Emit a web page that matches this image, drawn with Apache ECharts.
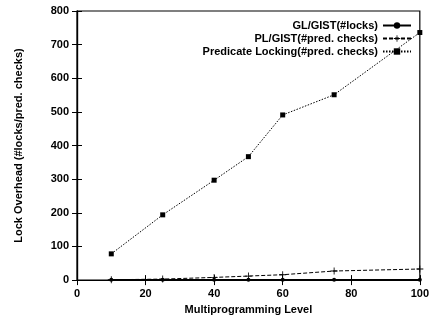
<!DOCTYPE html>
<html>
<head>
    <meta charset="utf-8" />
    <script src="https://cdn.jsdelivr.net/npm/echarts@6/dist/echarts.min.js"></script>
</head>
<body style="margin:0;">
    <div id="main" style="width: 432px;height:320px;"></div>
    <script type="text/javascript">
        const levels = [10, 25, 40, 50, 60, 75, 100];
        const glLocks = [1, 1, 1, 1, 1, 1, 1];
        const plChecks = [1, 3, 8, 12, 16, 27, 33];
        const predChecks = [78, 194, 297, 367, 491, 551, 736];
        const seriesNames = ['GL/GIST(#locks)', 'PL/GIST(#pred. checks)', 'Predicate Locking(#pred. checks)'];

        const FONT = 'Liberation Sans';
        const plus = 'path://M-0.6,-5H0.6V5H-0.6Z M-5,-0.6H5V0.6H-5Z';

        function pairs(ys) {
            return levels.map((x, i) => [x, ys[i]]);
        }

        function axisCommon(extra) {
            return Object.assign({
                axisLine: { show: true, lineStyle: { color: '#000', width: 1.2 } },
                axisTick: { show: true, inside: true, length: 5, lineStyle: { color: '#000' } },
                splitLine: { show: false },
                axisLabel: { color: '#000', fontFamily: FONT, fontSize: 11, fontWeight: 'bold' }
            }, extra);
        }

        const myChart = echarts.init(document.getElementById('main'));
        myChart.setOption({
            animation: false,
            backgroundColor: '#fff',
            grid: { left: 77, right: 8, top: 11, bottom: 38, show: true, borderColor: '#000', borderWidth: 1.2 },
            legend: {
                orient: 'vertical',
                right: 20,
                top: 19,
                align: 'right',
                itemWidth: 28,
                itemHeight: 8,
                itemGap: 0,
                padding: 0,
                textStyle: { color: '#000', fontFamily: FONT, fontSize: 11, fontWeight: 'bold', lineHeight: 13 },
                data: seriesNames
            },
            xAxis: [
                axisCommon({
                    type: 'value', min: 0, max: 100, interval: 20,
                    name: 'Multiprogramming Level', nameLocation: 'middle', nameGap: 15,
                    nameTextStyle: { color: '#000', fontFamily: FONT, fontSize: 11, fontWeight: 'bold' }
                }),
                axisCommon({
                    type: 'value', min: 0, max: 100, interval: 20, position: 'top',
                    axisLabel: { show: false }
                })
            ],
            yAxis: [
                axisCommon({
                    type: 'value', min: 0, max: 800, interval: 100,
                    name: 'Lock Overhead (#locks/pred. checks)', nameLocation: 'middle', nameGap: 53,
                    nameTextStyle: { color: '#000', fontFamily: FONT, fontSize: 11, fontWeight: 'bold' }
                }),
                axisCommon({
                    type: 'value', min: 0, max: 800, interval: 100, position: 'right',
                    axisLabel: { show: false }
                })
            ],
            series: [
                {
                    name: seriesNames[0], type: 'line', data: pairs(glLocks),
                    symbol: 'circle', symbolSize: 4,
                    lineStyle: { color: '#000', width: 1.5, type: 'solid' },
                    itemStyle: { color: '#000' }
                },
                {
                    name: seriesNames[1], type: 'line', data: pairs(plChecks),
                    symbol: plus, symbolSize: 7,
                    lineStyle: { color: '#000', width: 1, type: [4, 2] },
                    itemStyle: { color: '#000' }
                },
                {
                    name: seriesNames[2], type: 'line', data: pairs(predChecks),
                    symbol: 'rect', symbolSize: 5,
                    lineStyle: { color: '#000', width: 1, type: [1.5, 1.5] },
                    itemStyle: { color: '#000' }
                }
            ]
        });
    </script>
</body>
</html>
